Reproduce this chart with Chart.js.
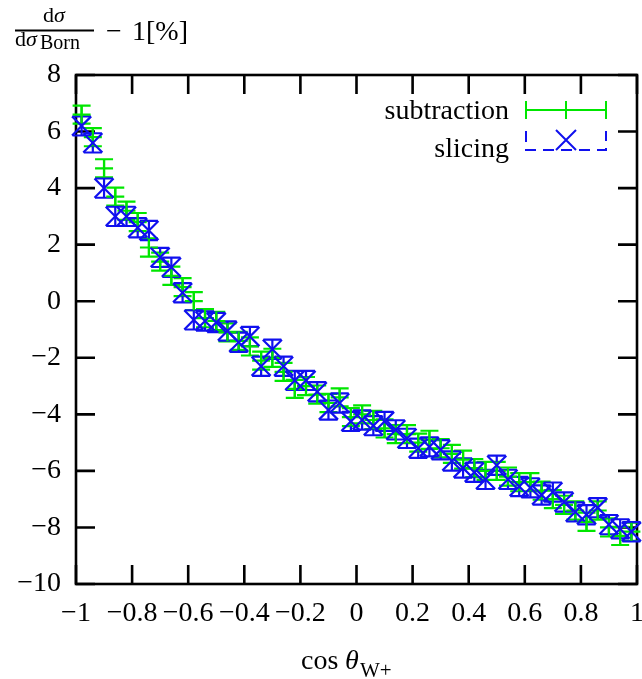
<!DOCTYPE html>
<html><head><meta charset="utf-8">
<script src="https://cdn.jsdelivr.net/npm/chart.js@4/dist/chart.umd.min.js"></script>
<style>html,body{margin:0;padding:0;background:#fff;}#wrap{width:642px;height:679px;position:relative;}</style>
</head><body><div id="wrap"><canvas id="c" width="642" height="679"></canvas></div>
<script>
// bin centres of cos(theta_W+)
const cosTheta = [-0.98,-0.94,-0.90,-0.86,-0.82,-0.78,-0.74,-0.70,-0.66,-0.62,
  -0.58,-0.54,-0.50,-0.46,-0.42,-0.38,-0.34,-0.30,-0.26,-0.22,
  -0.18,-0.14,-0.10,-0.06,-0.02,0.02,0.06,0.10,0.14,0.18,
  0.22,0.26,0.30,0.34,0.38,0.42,0.46,0.50,0.54,0.58,
  0.62,0.66,0.70,0.74,0.78,0.82,0.86,0.90,0.94,0.98];
const subtraction = [6.6,5.8,4.7,3.7,3.2,2.8,1.9,1.4,0.9,0.5,
  0.0,-0.6,-0.7,-1.1,-1.4,-1.6,-2.1,-2.0,-2.5,-3.1,
  -3.0,-3.3,-3.6,-3.4,-4.1,-4.0,-4.2,-4.5,-4.7,-4.7,
  -5.0,-4.9,-5.2,-5.4,-5.6,-5.9,-6.0,-6.0,-6.2,-6.4,
  -6.4,-6.7,-7.0,-7.2,-7.4,-7.8,-7.4,-8.0,-8.3,-8.15];
const slicing = [6.2,5.6,4.0,3.0,3.0,2.6,2.5,1.55,1.2,0.3,
  -0.66,-0.7,-0.75,-1.05,-1.45,-1.25,-2.3,-1.7,-2.3,-2.8,
  -2.8,-3.2,-3.85,-3.6,-4.25,-4.2,-4.4,-4.25,-4.55,-4.85,
  -5.2,-5.15,-5.25,-5.65,-5.9,-6.05,-6.3,-5.8,-6.3,-6.55,
  -6.6,-6.85,-6.75,-7.1,-7.45,-7.55,-7.3,-7.9,-8.05,-8.15];
const subtractionErr = 0.32;
const slicingErr = 0.34;
const xTickValues = [-1,-0.8,-0.6,-0.4,-0.2,0,0.2,0.4,0.6,0.8,1];
const yTickValues = [-10,-8,-6,-4,-2,0,2,4,6,8];
const seriesNames = ['subtraction','slicing'];

const GREEN = '#00e600', BLUE = '#1010ee';
const FONT = '"Liberation Serif", "Times New Roman", serif';

function fmt(v){
  const r = Math.round(v*10)/10;
  const a = Math.abs(r);
  const s = Number.isInteger(a) ? String(a) : a.toFixed(1);
  return (r < 0 ? '\u2212' : '') + s;
}

const frameAndBars = {
  id: 'frameAndBars',
  beforeDatasetsDraw(chart){
    const {ctx, chartArea: a, scales:{x, y}} = chart;
    ctx.save();
    ctx.strokeStyle = '#000'; ctx.lineWidth = 2.6;
    ctx.strokeRect(a.left, a.top, a.right - a.left, a.bottom - a.top);
    const TL = 19;
    ctx.beginPath();
    xTickValues.forEach(v => {
      const px = x.getPixelForValue(v);
      ctx.moveTo(px, a.bottom); ctx.lineTo(px, a.bottom - TL);
      ctx.moveTo(px, a.top); ctx.lineTo(px, a.top + TL);
    });
    yTickValues.forEach(v => {
      const py = y.getPixelForValue(v);
      ctx.moveTo(a.left, py); ctx.lineTo(a.left + TL, py);
      ctx.moveTo(a.right, py); ctx.lineTo(a.right - TL, py);
    });
    ctx.stroke();
    const cap = 9;
    const drawBars = (vals, err, color) => {
      ctx.strokeStyle = color; ctx.lineWidth = 2.2;
      ctx.beginPath();
      vals.forEach((v, i) => {
        const px = x.getPixelForValue(cosTheta[i]);
        const p1 = y.getPixelForValue(v + err), p2 = y.getPixelForValue(v - err);
        ctx.moveTo(px, p1); ctx.lineTo(px, p2);
        ctx.moveTo(px - cap, p1); ctx.lineTo(px + cap, p1);
        ctx.moveTo(px - cap, p2); ctx.lineTo(px + cap, p2);
      });
      ctx.stroke();
    };
    drawBars(subtraction, subtractionErr, GREEN);
    drawBars(slicing, slicingErr, BLUE);
    ctx.restore();
  },
  afterDraw(chart){
    const {ctx} = chart;
    ctx.save();
    ctx.fillStyle = '#000';
    ctx.textBaseline = 'alphabetic';
    // legend
    ctx.font = '28px ' + FONT;
    ctx.textAlign = 'right';
    ctx.fillText(seriesNames[0], 509, 119);
    ctx.fillText(seriesNames[1], 509, 157);
    ctx.lineWidth = 2;
    ctx.strokeStyle = GREEN;
    ctx.beginPath();
    ctx.moveTo(526, 110); ctx.lineTo(606, 110);
    ctx.moveTo(526, 101); ctx.lineTo(526, 119);
    ctx.moveTo(606, 101); ctx.lineTo(606, 119);
    ctx.moveTo(566, 101); ctx.lineTo(566, 119);
    ctx.stroke();
    ctx.strokeStyle = BLUE;
    ctx.setLineDash([11, 7]);
    ctx.beginPath();
    ctx.moveTo(526, 131); ctx.lineTo(526, 150); ctx.lineTo(606, 150); ctx.lineTo(606, 131);
    ctx.stroke();
    ctx.setLineDash([]);
    ctx.beginPath();
    ctx.moveTo(556, 130); ctx.lineTo(576, 150);
    ctx.moveTo(576, 130); ctx.lineTo(556, 150);
    ctx.stroke();
    // y title
    ctx.textAlign = 'left';
    ctx.strokeStyle = '#000';
    ctx.font = '22px ' + FONT;
    ctx.fillText('d', 43, 22);
    ctx.font = 'italic 22px ' + FONT;
    ctx.fillText('\u03c3', 54, 22);
    ctx.font = '22px ' + FONT;
    ctx.fillText('d', 15, 46);
    ctx.font = 'italic 22px ' + FONT;
    ctx.fillText('\u03c3', 26, 46);
    ctx.font = '20px ' + FONT;
    ctx.fillText('Born', 40, 49);
    ctx.lineWidth = 2;
    ctx.beginPath(); ctx.moveTo(15, 30.5); ctx.lineTo(94, 30.5); ctx.stroke();
    ctx.font = '28px ' + FONT;
    ctx.fillText('\u2212', 106, 40);
    ctx.fillText('1[%]', 132, 40);
    // x title
    ctx.font = '28px ' + FONT;
    ctx.fillText('cos', 301, 669);
    ctx.font = 'italic 28px ' + FONT;
    ctx.fillText('\u03b8', 345, 669);
    ctx.font = '21px ' + FONT;
    ctx.fillText('W+', 360, 677);
    ctx.restore();
  }
};

new Chart(document.getElementById('c'), {
  type: 'scatter',
  data: {
    datasets: [
      { label: seriesNames[0], data: cosTheta.map((c, i) => ({x: c, y: subtraction[i]})),
        pointStyle: 'cross', pointRadius: 9, pointBorderWidth: 2.2, borderColor: GREEN,
        pointBorderColor: GREEN, backgroundColor: GREEN, order: 2, clip: false },
      { label: seriesNames[1], data: cosTheta.map((c, i) => ({x: c, y: slicing[i]})),
        pointStyle: 'crossRot', pointRadius: 13.5, pointBorderWidth: 2.2, borderColor: BLUE,
        pointBorderColor: BLUE, backgroundColor: BLUE, order: 1, clip: false }
    ]
  },
  options: {
    responsive: false, animation: false, devicePixelRatio: 1,
    layout: { autoPadding: false, padding: { top: 75, right: 5, left: 0, bottom: 0 } },
    plugins: { legend: { display: false }, tooltip: { enabled: false } },
    scales: {
      x: {
        type: 'linear', min: -1, max: 1,
        afterBuildTicks: s => { s.ticks = xTickValues.map(v => ({value: v})); },
        afterFit: s => { s.height = 95; s.paddingLeft = 0; s.paddingRight = 0; },
        grid: { display: false, drawTicks: false }, border: { display: false },
        ticks: { autoSkip: false, maxRotation: 0, padding: 13, color: '#000',
          font: { family: FONT, size: 28 }, callback: v => fmt(v) }
      },
      y: {
        type: 'linear', min: -10, max: 8,
        afterBuildTicks: s => { s.ticks = yTickValues.map(v => ({value: v})); },
        afterFit: s => { s.width = 76; s.paddingTop = 0; s.paddingBottom = 0; },
        grid: { display: false, drawTicks: false }, border: { display: false },
        ticks: { padding: 15, color: '#000', font: { family: FONT, size: 28 },
          callback: v => fmt(v) }
      }
    }
  },
  plugins: [frameAndBars]
});
</script></body></html>
